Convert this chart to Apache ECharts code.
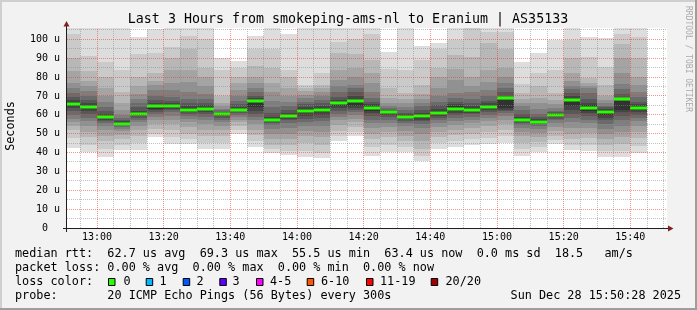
<!DOCTYPE html>
<html>
<head>
<meta charset="utf-8">
<script src="https://cdn.jsdelivr.net/npm/echarts@6/dist/echarts.min.js"></script>
<style>
html,body{margin:0;padding:0;background:#f2f2f2;}
#c{width:697px;height:310px;}
</style>
</head>
<body>
<div id="c"></div>
<script>
// ---- data ----
const slotStart = ['12:50','12:55','13:00','13:05','13:10','13:15','13:20','13:25','13:30','13:35',
  '13:40','13:45','13:50','13:55','14:00','14:05','14:10','14:15','14:20','14:25',
  '14:30','14:35','14:40','14:45','14:50','14:55','15:00','15:05','15:10','15:15',
  '15:20','15:25','15:30','15:35','15:40'];
const stepMin = 5;
const xRange = ['12:51', '15:51'];
const xTickLabels = ['13:00','13:20','13:40','14:00','14:20','14:40','15:00','15:20','15:40'];
const yTickValues = [0,10,20,30,40,50,60,70,80,90,100];
const yMax = 106;

// sorted ping rtts per 5-minute slot (us), rank 1 = fastest ... rank 20 = slowest
const ping01 = [42.4,40.3,37.7,41.2,41.2,48.2,44.4,44.4,41.7,41.7,50,43,40,38.6,37.7,37.2,46.1,48.6,38.2,40.3,40.3,35.6,41.7,42.9,44.2,44.7,45.1,38.2,40.5,44.5,41.2,40.8,37.7,37.7,39.8];
const ping02 = [47.5,44,42,44,45,50,48,47,45,45,52,46,42,41,41,40,48.5,51,43,44,43,38,45,46,47,47.5,48.5,42,43,46.5,44,44,41,41,43.5];
const ping03 = [52,48,46,47,49,52.5,52,50,48.5,49,54,49.5,44,44,45,44,51.5,53.5,47,48,46,42,48,49.5,50,51,52,45,45.5,49,47,47.5,44,44.5,47.5];
const ping04 = [54,51,49,49.5,52,55,55,53.5,52,52,56,52,47,47,48.5,48,54.5,56,50,51,49,46,51,52,53,54,55,48.5,48,51.5,50,50.5,47,48,51];
const ping05 = [56,54,52,51.5,54,57,57.5,56,55,54,57.5,55,50,50,51.5,51,57,58,53,53.5,51.5,50,53.5,54.5,55.5,56.5,57.5,51,50.5,53.5,53,53,50,51,54];
const ping06 = [58,56.5,54,52.5,56,59,59.5,58,57,56,59,57,52.5,53,54,54,59,60,55.5,55.5,54,53,55.5,56.5,57.5,58.5,59.5,53,52.5,55.5,56,55.5,52.5,54,56.5];
const ping07 = [60,58.5,55.5,53.5,57.5,60.5,61.5,59.5,59,57.5,60,59,54.5,55.5,56,56.5,60.5,61.5,57.5,57.5,55.5,55,57,58.5,59,60,61,54.5,54,57,58.5,57.5,55,57,58.5];
const ping08 = [62,60.5,56.5,54.2,58.5,61.5,62.5,60.5,60.5,58.5,61,60.5,55.5,57,58,58.5,62,62.5,59.5,59,56.8,56.5,58.5,60,60.3,61.5,62,55.5,55,58,60.5,59.5,57,59.5,60];
const ping09 = [63.5,62,57.5,54.6,59.3,62.5,63.3,61.5,61.5,59.3,61.8,62,56.2,58,59.5,60,63.5,63.5,61,60,57.8,57.5,59.5,61.2,61.2,62.5,62.8,56.3,55.6,58.8,62.5,61,58.5,61.5,61.5];
const ping10 = [64.5,63.2,58.2,54.8,59.7,63.3,63.8,62,62.5,60,62.2,64,56.8,58.8,61,61.5,64.5,64.5,62.2,60.8,58.3,58.3,60.3,62,62,63.3,63.5,56.8,56,59.3,64.5,62,60,62.8,62.5];
const ping11 = [67,65.2,59.4,55.8,61,65.2,65,63.5,64,60.8,63,68,58,60,63,63.5,67,68,64.5,61.9,59.5,60,62,64.5,63.5,65,68,58,57.3,60.3,68.5,65,62.5,67.5,64.5];
const ping12 = [68,66.5,60.5,56.5,62,66.5,66,64.5,65,61.2,64,69,59,61,64,64.5,68,70,65.5,62.3,60.3,61,63,65.5,64.5,66,69.5,59,58,60.8,70,66.5,63.2,69,65.5];
const ping13 = [69.5,68,62,57.5,64,68,67.5,66,66.5,61.7,65.5,70,61,62.5,65.5,66,69.5,72,67,62.8,61.2,62.5,65,67,66,67.5,72,60.5,59,61.3,71.5,68.5,64,71,67];
const ping14 = [71.5,70,64,58.5,66,70,69.5,68.5,68.5,62.3,67.5,72,64,64.5,67,68,72,74,69,63.5,62.5,64.5,67,69,68.5,70,74,62.5,60.5,62,73.5,71.5,64.7,73.5,69.5];
const ping15 = [74,72.5,67,60,68.5,73,73,72,71,63,70,74,67.5,67,69,70,75,76,72,64.5,64,66.5,70,71.5,72,73,77,64.5,63,63.5,75,74,66,76.5,72];
const ping16 = [77,75,70,62.5,71,76,77,77.5,75,64.5,73,77,72,70,70.5,72,78.5,80,77,66,66,68.5,74,78.5,75,77.5,80,66,66,65.5,78,75,68,82,76];
const ping17 = [83,78,74,66,75,78,84,83.5,80,66,77,80,77,74,72.5,74,84,85,82,68.7,68.5,71,80,84.5,80,84,85,68.5,69,68,82,77,70,90,80];
const ping18 = [90,83,80,72,80,82,90,95,85,70,80,86,85,80,74,76,93,92,89,74,71.5,76,85,91.5,90.5,98,95,71.5,75,71.4,90,79.3,75.7,97.7,90];
const ping19 = [103,91,88,84,92,93,96,102,100,84,85,95,95,84,76,82,98.5,100,103,84.5,83.7,89,95,99.5,106,104,104,76.5,82,83.7,99.4,90.7,85.5,103,101];
const ping20 = [110,110,110,110,101,105.5,110,110,110,90,88.5,102,110,103,110,110,110,112,110,93.5,110,96.5,98,110,110,110,110,88,93,99.5,110,101,100.5,110,110];
const medianRtt = [65.7,64.2,58.8,55.2,60.3,64.4,64.4,62.6,63.3,60.4,62.4,67.4,57.4,59.4,62.0,62.6,66.1,67.2,63.5,61.4,58.8,59.3,61.1,63.2,62.6,64.1,68.9,57.4,56.3,59.8,67.7,63.7,61.4,68.6,63.5];

const rttStats = ['62.7', '69.3', '55.5', '63.4'];   // avg max min now (us)
const rttSd = '0.0';
const rttAms = '18.5';
const lossStats = ['0.00', '0.00', '0.00', '0.00']; // avg max min now (%)
const lossLabels = ['0', '1', '2', '3', '4-5', '6-10', '11-19', '20/20'];
const lossColors = ['#26ff00', '#00b8ff', '#0059ff', '#5e00ff', '#ff00ff', '#ff5500', '#ff0000', '#a10000'];
const titleText = 'Last 3 Hours from smokeping-ams-nl to Eranium | AS35133';
const probeText = '20 ICMP Echo Pings (56 Bytes) every 300s';
const stampText = 'Sun Dec 28 15:50:28 2025';

// ---- helpers ----
const toMin = s => { const p = s.split(':').map(Number); return (p[0] - 12) * 60 + p[1]; };
const fmtMin = v => { const h = 12 + Math.floor(v / 60), m = Math.round(v % 60); return h + ':' + (m < 10 ? '0' : '') + m; };
const pings = [ping01,ping02,ping03,ping04,ping05,ping06,ping07,ping08,ping09,ping10,
               ping11,ping12,ping13,ping14,ping15,ping16,ping17,ping18,ping19,ping20];
const smokeData = slotStart.map((s, i) => [toMin(s), toMin(s) + stepMin].concat(pings.map(p => p[i])));
const medianData = slotStart.map((s, i) => [toMin(s), toMin(s) + stepMin, medianRtt[i]]);

const xMin = toMin(xRange[0]), xMax = toMin(xRange[1]);
const majorX = xTickLabels.map(s => toMin(s));
const minorX = [];
for (let v = Math.ceil(xMin / stepMin) * stepMin; v < xMax; v += stepMin) if (majorX.indexOf(v) < 0) minorX.push(v);
const majorY = yTickValues.filter(v => v > 0);
const minorY = [];
for (let v = 5; v < yMax; v += 10) minorY.push(v);

const shades = ['#dddddd','#cacaca','#b7b7b7','#a4a4a4','#919191','#7e7e7e','#6b6b6b','#585858','#454545','#323232'];

function renderSmoke(params, api) {
  const t0 = api.value(0), t1 = api.value(1);
  const children = [];
  for (let k = 0; k < 10; k++) {
    const lo = api.value(2 + k), hi = api.value(21 - k);
    const a = api.coord([t0, hi]), b = api.coord([t1, lo]);
    const x0 = Math.round(a[0]), x1 = Math.round(b[0]);
    const y0 = Math.round(a[1]), y1 = Math.round(b[1]);
    children.push({type: 'rect', shape: {x: x0, y: y0, width: x1 - x0, height: y1 - y0},
      style: {fill: shades[k]}});
  }
  return {type: 'group', children: children};
}
function renderMedian(params, api) {
  const a = api.coord([api.value(0), api.value(2)]), b = api.coord([api.value(1), api.value(2)]);
  const x0 = Math.round(a[0]), x1 = Math.round(b[0]);
  const yc = Math.round(a[1]);
  return {type: 'rect', shape: {x: x0, y: yc - 1.5, width: x1 - x0, height: 3},
    style: {fill: lossColors[0]}};
}

const mono = 'DejaVu Sans Mono';
const gridMinor = 'rgba(140,140,140,0.55)';
const gridMajor = 'rgba(230,60,60,0.55)';

function txt(text, x, y, opts) {
  return Object.assign({type: 'text', x: x, y: y, z: 100, silent: true,
    style: Object.assign({text: text, fontFamily: mono, fontSize: 11.8, fill: '#000',
      align: 'left', verticalAlign: 'middle'}, (opts && opts.style) || {})},
    opts && opts.rotation !== undefined ? {rotation: opts.rotation} : {});
}

const row1 = 'median rtt:  ' + rttStats[0] + ' us avg  ' + rttStats[1] + ' us max  ' + rttStats[2] +
  ' us min  ' + rttStats[3] + ' us now  ' + rttSd + ' ms sd  ' + rttAms + '   am/s';
const row2 = 'packet loss: ' + lossStats[0] + ' % avg  ' + lossStats[1] + ' % max  ' + lossStats[2] +
  ' % min  ' + lossStats[3] + ' % now';
const boxX = [108, 145.7, 182.7, 219.3, 256, 306.7, 366, 430.7];
const labX = [123.5, 159.5, 196.5, 232.5, 270, 321, 380, 445.5];

const graphics = [
  {type: 'rect', z: 100, silent: true, shape: {x: 0, y: 0, width: 697, height: 2}, style: {fill: '#cfcfcf'}},
  {type: 'rect', z: 100, silent: true, shape: {x: 0, y: 0, width: 2, height: 310}, style: {fill: '#cfcfcf'}},
  {type: 'rect', z: 101, silent: true, shape: {x: 0, y: 308, width: 697, height: 2}, style: {fill: '#9e9e9e'}},
  {type: 'rect', z: 101, silent: true, shape: {x: 695, y: 0, width: 2, height: 310}, style: {fill: '#9e9e9e'}},
  // axes
  {type: 'line', z: 100, silent: true, shape: {x1: 63, y1: 228.5, x2: 669, y2: 228.5}, style: {stroke: '#1f1f1f', lineWidth: 1}},
  {type: 'line', z: 100, silent: true, shape: {x1: 66.5, y1: 232, x2: 66.5, y2: 25}, style: {stroke: '#1f1f1f', lineWidth: 1}},
  {type: 'polygon', z: 101, silent: true, shape: {points: [[668, 225.5], [673.5, 228.5], [668, 231.5]]}, style: {fill: '#802020'}},
  {type: 'polygon', z: 101, silent: true, shape: {points: [[63.5, 26.5], [66.5, 21], [69.5, 26.5]]}, style: {fill: '#802020'}},
  txt(titleText, 348, 19.4, {style: {fontSize: 13.3, align: 'center'}}),
  txt('Seconds', 11, 126, {rotation: Math.PI / 2, style: {align: 'center'}}),
  txt('RRDTOOL / TOBI OETIKER', 687.7, 59, {rotation: -Math.PI / 2, style: {fontSize: 8, align: 'center', fill: '#aaaaaa'}}),
  txt(row1, 15, 254.2),
  txt(row2, 15, 268.2),
  txt('loss color:', 15, 282.2),
  txt('probe:       ' + probeText, 15, 296.2),
  txt(stampText, 681, 296.2, {style: {align: 'right'}})
];
lossLabels.forEach((l, i) => {
  graphics.push({type: 'rect', z: 100, silent: true, shape: {x: boxX[i] + 0.5, y: 278.5, width: 6.5, height: 7},
    style: {fill: lossColors[i], stroke: '#000', lineWidth: 1}});
  graphics.push(txt(l, labX[i], 282.2));
});

const chart = echarts.init(document.getElementById('c'), null, {renderer: 'canvas', width: 697, height: 310});
chart.setOption({
  backgroundColor: '#f2f2f2',
  animation: false,
  grid: {left: 67, top: 28, width: 600, height: 200, show: true, backgroundColor: '#ffffff', borderWidth: 0, outerBoundsMode: 'none'},
  xAxis: {type: 'value', min: xMin, max: xMax, axisLine: {show: false},
    axisTick: {show: false, customValues: majorX},
    axisLabel: {customValues: majorX, formatter: v => fmtMin(v), fontFamily: mono, fontSize: 10, color: '#000', margin: 4},
    splitLine: {show: false}},
  yAxis: {type: 'value', min: 0, max: yMax, axisLine: {show: false},
    axisTick: {show: false, customValues: yTickValues},
    axisLabel: {customValues: yTickValues, formatter: v => (v === 0 ? '0  ' : v + ' u'), fontFamily: mono, fontSize: 10, color: '#000', margin: 7},
    splitLine: {show: false}},
  series: [
    {type: 'custom', name: 'smoke', z: 2, clip: true, silent: true,
      encode: {x: [0, 1], y: [2, 21]}, data: smokeData, renderItem: renderSmoke},
    {type: 'custom', name: 'median', z: 3, clip: true, silent: true,
      encode: {x: [0, 1], y: 2}, data: medianData, renderItem: renderMedian}
  ],
  graphic: graphics
});

// grid lines placed through the chart's own scales (drawn over the smoke, like rrdtool)
function gridLines(values, vertical, color, z) {
  return values.map(v => {
    if (vertical) {
      const a = chart.convertToPixel({gridIndex: 0}, [v, 0]);
      const b = chart.convertToPixel({gridIndex: 0}, [v, yMax]);
      const x = Math.floor(a[0]) + 0.5;
      return {type: 'line', z: z, silent: true, shape: {x1: x, y1: a[1], x2: x, y2: b[1]},
        style: {stroke: color, lineWidth: 1, lineDash: [1, 1]}};
    }
    const a = chart.convertToPixel({gridIndex: 0}, [xMin, v]);
    const b = chart.convertToPixel({gridIndex: 0}, [xMax, v]);
    const y = Math.floor(a[1]) + 0.5;
    return {type: 'line', z: z, silent: true, shape: {x1: a[0], y1: y, x2: b[0], y2: y},
      style: {stroke: color, lineWidth: 1, lineDash: [1, 1]}};
  });
}
const lines = [].concat(
  gridLines(minorX, true, gridMinor, 50),
  gridLines(minorY, false, gridMinor, 50),
  gridLines(majorX, true, gridMajor, 51),
  gridLines(majorY, false, gridMajor, 51));
chart.setOption({graphic: graphics.concat(lines)});
</script>
</body>
</html>
